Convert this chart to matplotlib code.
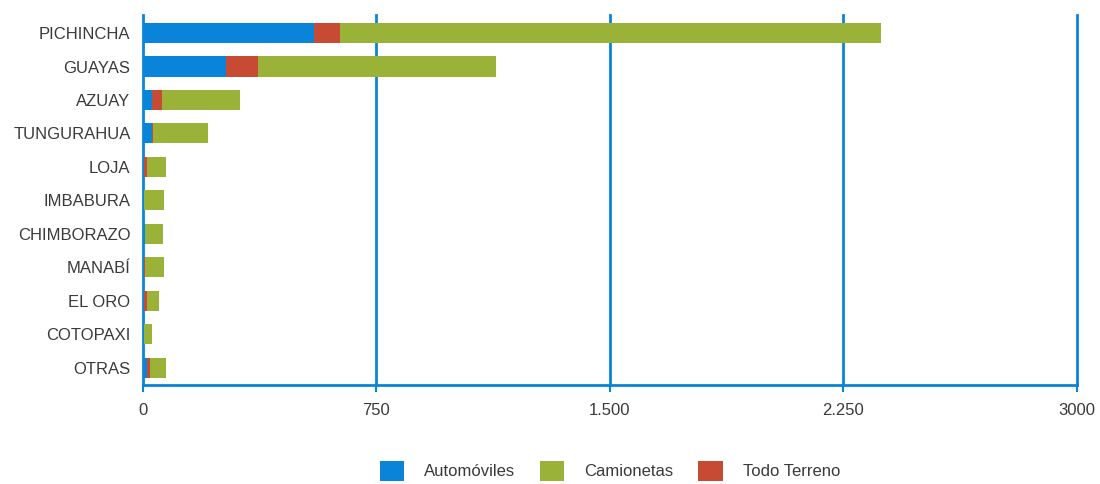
import matplotlib.pyplot as plt
import numpy as np

plt.rcParams['font.family'] = ['Liberation Sans', 'DejaVu Sans']

provincias = ['PICHINCHA', 'GUAYAS', 'AZUAY', 'TUNGURAHUA', 'LOJA', 'IMBABURA',
              'CHIMBORAZO', 'MANABÍ', 'EL ORO', 'COTOPAXI', 'OTRAS']
automoviles = [549, 267, 29, 29, 2, 3, 5, 3, 2, 2, 13]
todo_terreno = [84, 103, 32, 3, 12, 0, 0, 2, 11, 0, 10]
camionetas = [1738, 764, 250, 177, 61, 66, 58, 61, 38, 28, 51]
ticks = [0, 750, 1500, 2250, 3000]
tick_labels = ['0', '750', '1.500', '2.250', '3000']

AZUL = '#0a84d8'
VERDE = '#9bb238'
ROJO = '#c64a34'
TEXTO = '#3a3a3a'

fig = plt.figure(figsize=(11, 4.84), dpi=100)
ax = fig.add_axes([0.13, 0.2045, 0.849, 0.7645])

y = np.arange(len(provincias))
auto = np.array(automoviles)
tt = np.array(todo_terreno)
cam = np.array(camionetas)

ax.barh(y, auto, height=0.6, color=AZUL, label='Automóviles', zorder=3)
ax.barh(y, tt, left=auto, height=0.6, color=ROJO, label='Todo Terreno', zorder=3)
ax.barh(y, cam, left=auto + tt, height=0.6, color=VERDE, label='Camionetas', zorder=3)

ax.set_xlim(0, 3000)
ax.set_ylim(10.52, -0.54)
ax.set_yticks(y)
ax.set_yticklabels(provincias, fontsize=12, color=TEXTO)
ax.tick_params(axis='y', length=0, pad=9)
ax.set_xticks(ticks)
ax.set_xticklabels(tick_labels, fontsize=12, color=TEXTO)
ax.tick_params(axis='x', length=5, width=1.5, color=AZUL, pad=8)

for x in ticks[1:]:
    ax.axvline(x, color=AZUL, lw=2, zorder=2, clip_on=False)

for s in ['top', 'right']:
    ax.spines[s].set_visible(False)
ax.spines['left'].set_color(AZUL)
ax.spines['left'].set_linewidth(2)
ax.spines['bottom'].set_color(AZUL)
ax.spines['bottom'].set_linewidth(2)

h, l = ax.get_legend_handles_labels()
order = [0, 2, 1]
fig.legend([h[i] for i in order], [l[i] for i in order], loc='center',
           bbox_to_anchor=(0.5545, 0.027), ncol=3, frameon=False, fontsize=12,
           handlelength=1.45, handleheight=1.4, handletextpad=1.2,
           columnspacing=1.5, labelcolor=TEXTO)

plt.savefig('out.png', dpi=100)
